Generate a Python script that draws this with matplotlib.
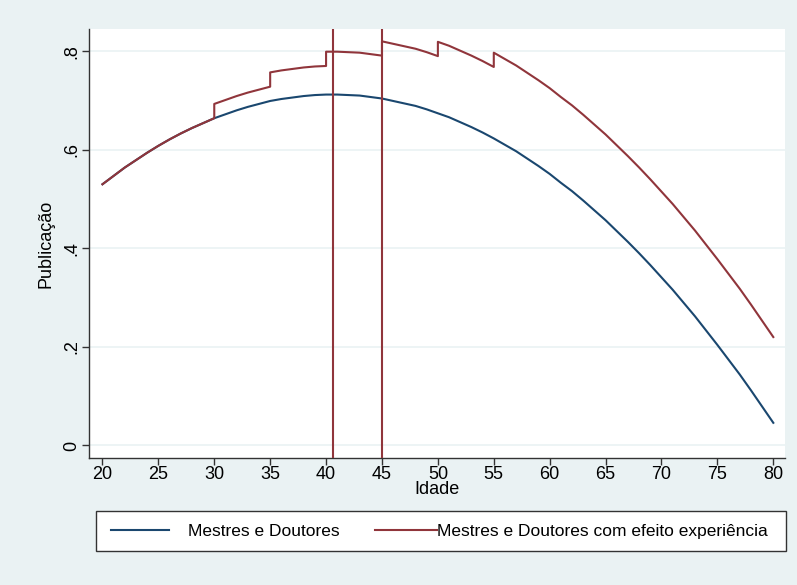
import matplotlib
matplotlib.use("Agg")
import matplotlib.pyplot as plt
from matplotlib.patches import Rectangle

plt.rcParams['font.family'] = ['Liberation Sans', 'DejaVu Sans']

# Age grid and predicted publication for masters and doctors
ages = list(range(20, 81))
mestres_doutores = [
    0.530, 0.547, 0.564, 0.579, 0.594, 0.608, 0.621, 0.633, 0.644, 0.654,
    0.664, 0.672, 0.680, 0.687, 0.693, 0.699, 0.703, 0.706, 0.709, 0.711,
    0.712, 0.712, 0.711, 0.710, 0.707, 0.704, 0.699, 0.694, 0.689, 0.682,
    0.674, 0.666, 0.656, 0.646, 0.635, 0.623, 0.610, 0.597, 0.582, 0.567,
    0.551, 0.533, 0.516, 0.497, 0.477, 0.457, 0.435, 0.413, 0.390, 0.366,
    0.341, 0.316, 0.289, 0.262, 0.233, 0.204, 0.174, 0.144, 0.112, 0.079,
    0.046,
]

# Same profile with the experience effect (jumps every five years, 30 to 55)
exp_ages = [
    20, 21, 22, 23, 24, 25, 26, 27, 28, 29,
    30, 30, 31, 32, 33, 34, 35, 35, 36, 37, 38, 39,
    40, 40, 41, 42, 43, 44, 45, 45, 46, 47, 48, 49,
    50, 50, 51, 52, 53, 54, 55, 55,
    56, 57, 58, 59, 60, 61, 62, 63, 64, 65, 66, 67, 68, 69,
    70, 71, 72, 73, 74, 75, 76, 77, 78, 79, 80,
]
com_experiencia = [
    0.530, 0.547, 0.564, 0.579, 0.594, 0.608, 0.621, 0.633, 0.644, 0.654,
    0.664, 0.693, 0.701, 0.709, 0.716, 0.722, 0.728, 0.757, 0.761, 0.764, 0.767, 0.769,
    0.770, 0.799, 0.799, 0.798, 0.797, 0.794, 0.791, 0.820, 0.815, 0.810, 0.805, 0.798,
    0.790, 0.819, 0.811, 0.801, 0.791, 0.780, 0.768, 0.797,
    0.784, 0.771, 0.756, 0.741, 0.725, 0.707, 0.690, 0.671, 0.651, 0.631, 0.609, 0.587, 0.564, 0.540,
    0.515, 0.490, 0.463, 0.436, 0.407, 0.378, 0.348, 0.318, 0.286, 0.253, 0.220,
]

# Reference ages marked with vertical lines
marcos = [40.6, 45]

x_ticks = [20, 25, 30, 35, 40, 45, 50, 55, 60, 65, 70, 75, 80]
y_ticks = [0, 0.2, 0.4, 0.6, 0.8]
y_tick_labels = ["0", ".2", ".4", ".6", ".8"]

bg = "#eaf2f3"
navy = "#1a476f"
maroon = "#90353b"
fs = 13
fs_leg = 12.5

fig = plt.figure(figsize=(7.97, 5.85), dpi=100, facecolor=bg)
ax = fig.add_axes([0.112, 0.2171, 0.873, 0.7333])
ax.set_facecolor("white")

for y in y_ticks:
    ax.axhline(y, color=bg, lw=1.2, zorder=0)

l1, = ax.plot(ages, mestres_doutores, color=navy, lw=1.5, zorder=3,
              label="Mestres e Doutores")
l2, = ax.plot(exp_ages, com_experiencia, color=maroon, lw=1.5, zorder=4,
              label="Mestres e Doutores com efeito experiência")
for m in marcos:
    ax.axvline(m, color=maroon, lw=1.5, zorder=5)

ax.set_xlim(18.82, 81.05)
ax.set_ylim(-0.0254, 0.845)
ax.set_xticks(x_ticks)
ax.set_xticklabels([str(t) for t in x_ticks], fontsize=fs)
ax.set_yticks(y_ticks)
ax.set_yticklabels(y_tick_labels, fontsize=fs, rotation=90, va="center")
ax.tick_params(axis="both", direction="out", length=5, width=1, color="#333333")
ax.tick_params(axis="x", pad=0.5)
ax.tick_params(axis="y", pad=1.5)

for s in ["top", "right"]:
    ax.spines[s].set_visible(False)
for s in ["left", "bottom"]:
    ax.spines[s].set_color("#333333")
    ax.spines[s].set_linewidth(1)

ax.set_xlabel("Idade", fontsize=fs, labelpad=-1)
ax.set_ylabel("Publicação", fontsize=fs, labelpad=6)

# Legend box below the plot, one entry per series
fig.patches.append(Rectangle((0.1205, 0.0581), 0.8657, 0.0684,
                             transform=fig.transFigure, facecolor="white",
                             edgecolor="#333333", lw=1, zorder=1))
fig.legend(handles=[l1], loc="center left", bbox_to_anchor=(0.129, 0.0923),
           frameon=False, fontsize=fs_leg, handlelength=3.3,
           handletextpad=1.1, borderpad=0)
fig.legend(handles=[l2], loc="center left", bbox_to_anchor=(0.459, 0.0923),
           frameon=False, fontsize=fs_leg, handlelength=3.6,
           handletextpad=0.0, borderpad=0)

fig.savefig("out.png", dpi=100, facecolor=bg)
